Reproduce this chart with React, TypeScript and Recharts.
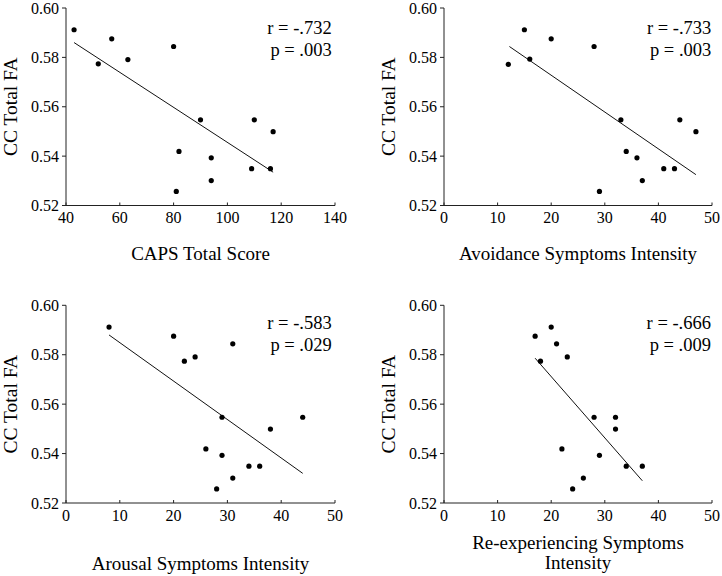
import React from 'react';
import { ScatterChart, Scatter, XAxis, YAxis, ReferenceLine, Customized } from 'recharts';

const FONT = '"Liberation Serif", "Times New Roman", Times, serif';

// shared y axis
const yTicks = [0.52, 0.54, 0.56, 0.58, 0.6];
const yDomain: [number, number] = [0.52, 0.6];
const yAxisTitle = 'CC Total FA';

// x ticks
const capsTicks = [40, 60, 80, 100, 120, 140];
const intensityTicks = [0, 10, 20, 30, 40, 50];

// Panel 1: CAPS Total Score
const capsX = [43, 52, 57, 63, 80, 90, 82, 81, 94, 94, 109, 110, 116, 117];
const capsY = [0.5912, 0.5774, 0.5875, 0.5791, 0.5844, 0.5547, 0.5419, 0.5257, 0.5393, 0.5301, 0.5349, 0.5547, 0.5349, 0.5499];
const capsFit = [[43, 0.586], [117, 0.5335]];
const capsStats = ['r = -.732', 'p = .003'];

// Panel 2: Avoidance
const avoidX = [12, 15, 16, 20, 28, 33, 34, 36, 29, 37, 41, 43, 44, 47];
const avoidY = [0.5772, 0.5912, 0.5793, 0.5875, 0.5844, 0.5547, 0.5419, 0.5393, 0.5257, 0.5301, 0.5349, 0.5349, 0.5547, 0.5499];
const avoidFit = [[12.2, 0.5844], [47, 0.5325]];
const avoidStats = ['r = -.733', 'p = .003'];

// Panel 3: Arousal
const arousX = [8, 20, 22, 24, 31, 29, 26, 29, 28, 31, 34, 36, 38, 44];
const arousY = [0.5912, 0.5875, 0.5774, 0.5791, 0.5844, 0.5547, 0.5419, 0.5393, 0.5257, 0.5301, 0.5349, 0.5349, 0.5499, 0.5547];
const arousFit = [[8, 0.588], [44, 0.532]];
const arousStats = ['r = -.583', 'p = .029'];

// Panel 4: Re-experiencing
const reexX = [17, 20, 21, 18, 23, 28, 32, 32, 22, 29, 24, 26, 34, 37];
const reexY = [0.5875, 0.5912, 0.5844, 0.5774, 0.5791, 0.5547, 0.5547, 0.5499, 0.5419, 0.5393, 0.5257, 0.5301, 0.5349, 0.5349];
const reexFit = [[17, 0.5786], [37, 0.529]];
const reexStats = ['r = -.666', 'p = .009'];

const zip = (xs: number[], ys: number[]) => xs.map((x, i) => ({ x, y: ys[i] }));

type PanelProps = {
  left: number;
  top: number;
  xs: number[];
  ys: number[];
  fit: number[][];
  stats: string[];
  xTicks: number[];
  xDomain: [number, number];
  xTitle: string[];
  titleBaselines: number[];
  margin: { top: number; right: number; bottom: number; left: number };
  yAxisWidth: number;
  statBaselines: number[];
  statRightInset: number;
};

const W = 361;
const H = 288;
const X_AXIS_H = 30;

function Panel(p: PanelProps) {
  const data = zip(p.xs, p.ys);
  const plotRight = W - p.margin.right;
  const plotTop = p.margin.top;
  const Stats = () => (
    <g>
      {p.stats.map((s, i) => (
        <text
          key={i}
          x={plotRight - p.statRightInset}
          y={plotTop + p.statBaselines[i]}
          textAnchor="end"
          fontFamily={FONT}
          fontSize={18.5}
          fill="#000"
        >
          {s}
        </text>
      ))}
    </g>
  );
  return (
    <div style={{ position: 'absolute', left: p.left, top: p.top, width: W, height: H }}>
      <ScatterChart width={W} height={H} margin={p.margin} style={{ fontFamily: FONT }}>
        <XAxis
          type="number"
          dataKey="x"
          domain={p.xDomain}
          ticks={p.xTicks}
          interval={0}
          height={X_AXIS_H}
          tickSize={-3}
          tickMargin={9.6}
          stroke="#222"
          tick={{ fontFamily: FONT, fontSize: 16, fill: '#000' }}
          label={{
            content: (props: any) => {
              const vb = props.viewBox || {};
              const cx = vb.x + vb.width / 2;
              return (
                <g>
                  {p.xTitle.map((t, i) => (
                    <text
                      key={i}
                      x={cx}
                      y={vb.y + p.titleBaselines[i]}
                      textAnchor="middle"
                      fontFamily={FONT}
                      fontSize={19}
                      fill="#000"
                    >
                      {t}
                    </text>
                  ))}
                </g>
              );
            },
          }}
        />
        <YAxis
          type="number"
          dataKey="y"
          domain={yDomain}
          ticks={yTicks}
          interval={0}
          width={p.yAxisWidth}
          tickSize={4}
          tickMargin={3}
          stroke="#222"
          tickFormatter={(v: number) => v.toFixed(2)}
          tick={{ fontFamily: FONT, fontSize: 16, fill: '#000' }}
          label={{
            content: (props: any) => {
              const vb = props.viewBox || {};
              const bx = vb.x + vb.width - 49;
              const cy = vb.y + vb.height / 2;
              return (
                <text
                  x={bx}
                  y={cy}
                  transform={`rotate(-90, ${bx}, ${cy})`}
                  textAnchor="middle"
                  fontFamily={FONT}
                  fontSize={19.5}
                  fill="#000"
                >
                  {yAxisTitle}
                </text>
              );
            },
          }}
        />
        <ReferenceLine
          segment={[
            { x: p.fit[0][0], y: p.fit[0][1] },
            { x: p.fit[1][0], y: p.fit[1][1] },
          ]}
          stroke="#111"
          strokeWidth={1}
          ifOverflow="visible"
        />
        <Scatter
          data={data}
          isAnimationActive={false}
          shape={(s: any) => <circle cx={s.cx} cy={s.cy} r={2.6} fill="#000" />}
        />
        <Customized component={Stats} />
      </ScatterChart>
    </div>
  );
}

export default function App() {
  return (
    <div style={{ position: 'absolute', left: 0, top: 0, width: 722, height: 576, background: '#fff' }}>
      <Panel
        left={0}
        top={0}
        xs={capsX}
        ys={capsY}
        fit={capsFit}
        stats={capsStats}
        xTicks={capsTicks}
        xDomain={[40, 140]}
        xTitle={['CAPS Total Score']}
        titleBaselines={[54.5]}
        margin={{ top: 8, right: 26, bottom: H - 205.5 - X_AXIS_H, left: 0 }}
        yAxisWidth={66}
        statBaselines={[26.3, 47.7]}
        statRightInset={3.3}
      />
      <Panel
        left={361}
        top={0}
        xs={avoidX}
        ys={avoidY}
        fit={avoidFit}
        stats={avoidStats}
        xTicks={intensityTicks}
        xDomain={[0, 50]}
        xTitle={['Avoidance Symptoms Intensity']}
        titleBaselines={[54]}
        margin={{ top: 8, right: 10, bottom: H - 205.5 - X_AXIS_H, left: 0 }}
        yAxisWidth={83}
        statBaselines={[26.3, 47.7]}
        statRightInset={0.7}
      />
      <Panel
        left={0}
        top={288}
        xs={arousX}
        ys={arousY}
        fit={arousFit}
        stats={arousStats}
        xTicks={intensityTicks}
        xDomain={[0, 50]}
        xTitle={['Arousal Symptoms Intensity']}
        titleBaselines={[66.5]}
        margin={{ top: 17.3, right: 26, bottom: H - 215 - X_AXIS_H, left: 0 }}
        yAxisWidth={66}
        statBaselines={[24, 45.5]}
        statRightInset={3.3}
      />
      <Panel
        left={361}
        top={288}
        xs={reexX}
        ys={reexY}
        fit={reexFit}
        stats={reexStats}
        xTicks={intensityTicks}
        xDomain={[0, 50]}
        xTitle={['Re-experiencing Symptoms', 'Intensity']}
        titleBaselines={[46, 66]}
        margin={{ top: 17.3, right: 10, bottom: H - 215 - X_AXIS_H, left: 0 }}
        yAxisWidth={83}
        statBaselines={[24, 45.5]}
        statRightInset={1}
      />
    </div>
  );
}
